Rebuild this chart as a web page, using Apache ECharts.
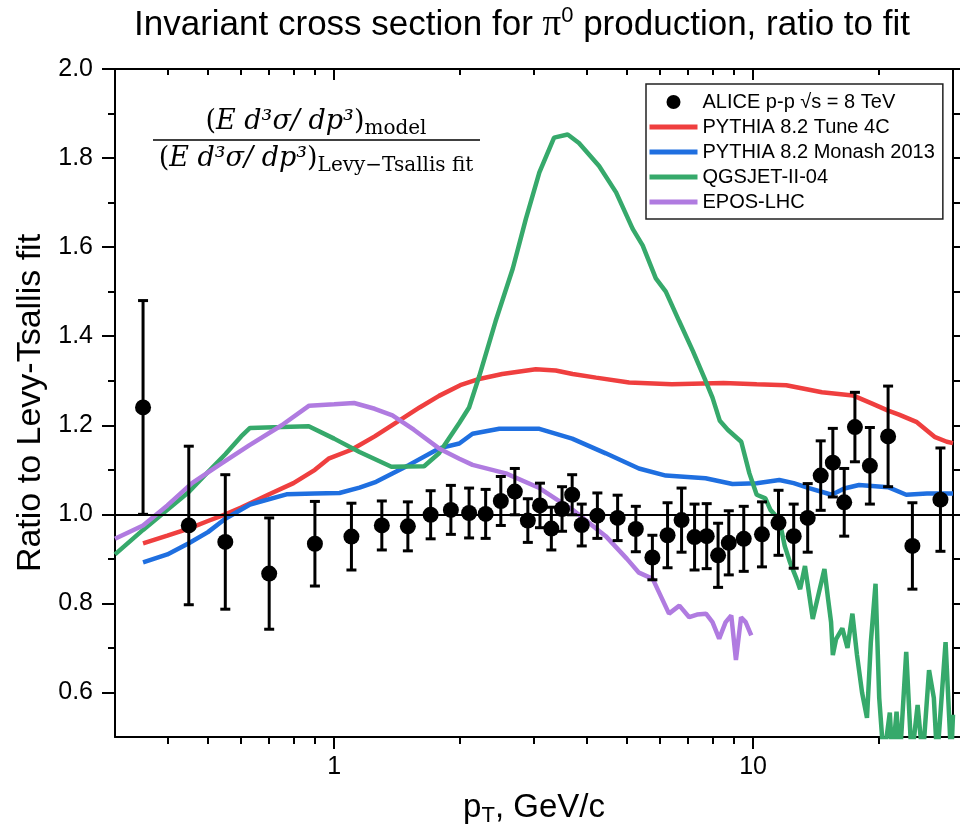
<!DOCTYPE html>
<html>
<head>
<meta charset="utf-8">
<script src="https://cdn.jsdelivr.net/npm/echarts@6/dist/echarts.min.js"></script>
<style>
  html, body { margin: 0; padding: 0; background: #fff; }
  #chart { width: 961px; height: 832px; }
</style>
</head>
<body>
<div id="chart"></div>
<script>
// ALICE data points (pT bin centres, ratio, error)
var alicePt = [0.35, 0.45, 0.55, 0.7, 0.9, 1.1, 1.3, 1.5, 1.7, 1.9, 2.1, 2.3, 2.5, 2.7, 2.9, 3.1, 3.3, 3.5, 3.7, 3.9,
  4.25, 4.75, 5.25, 5.75, 6.25, 6.75, 7.25, 7.75, 8.25, 8.75, 9.5, 10.5, 11.5, 12.5, 13.5, 14.5, 15.5, 16.5, 17.5, 19, 21, 24, 28]
var aliceRatio = [1.240, 0.975, 0.938, 0.867, 0.934, 0.950, 0.975, 0.973, 0.999, 1.010, 1.003, 1.001, 1.030, 1.051, 0.986, 1.020, 0.968, 1.012, 1.044, 0.976,
  0.997, 0.992, 0.967, 0.903, 0.953, 0.987, 0.949, 0.951, 0.908, 0.936, 0.945, 0.955, 0.981, 0.951, 0.992, 1.087, 1.116, 1.027, 1.196, 1.109, 1.175, 0.929, 1.033]
var aliceErr = [0.240, 0.178, 0.151, 0.125, 0.095, 0.075, 0.055, 0.055, 0.054, 0.055, 0.056, 0.055, 0.055, 0.052, 0.049, 0.050, 0.048, 0.050, 0.045, 0.047,
  0.051, 0.051, 0.051, 0.050, 0.073, 0.072, 0.074, 0.073, 0.072, 0.072, 0.073, 0.073, 0.073, 0.072, 0.077, 0.078, 0.077, 0.076, 0.078, 0.086, 0.113, 0.097, 0.116]

// PYTHIA 8.2 Tune 4C
var tune4cPt = [0.35, 0.4, 0.45, 0.5, 0.55, 0.6, 0.7, 0.8, 0.9, 0.97, 1.1, 1.25, 1.4, 1.6, 1.78, 2.0, 2.22, 2.52, 3.03, 3.38,
  3.71, 4.22, 5.06, 6.4, 8.5, 10.2, 12, 14.6, 17.3, 19.3, 21, 22.3, 24.6, 27.1, 29, 30]
var tune4cRatio = [0.935, 0.952, 0.968, 0.985, 1.0, 1.015, 1.045, 1.07, 1.10, 1.125, 1.145, 1.175, 1.205, 1.24, 1.266, 1.29, 1.304, 1.315, 1.326, 1.323,
  1.315, 1.307, 1.296, 1.292, 1.295, 1.292, 1.29, 1.274, 1.267, 1.248, 1.233, 1.224, 1.207, 1.174, 1.163, 1.16]

// PYTHIA 8.2 Monash 2013
var monashPt = [0.35, 0.4, 0.45, 0.5, 0.55, 0.63, 0.77, 0.9, 1.03, 1.15, 1.26, 1.51, 1.78, 1.99, 2.14, 2.48, 3.09, 3.7, 4.45, 5.34,
  6.19, 7.7, 8.93, 10.2, 11.55, 12.5, 13.6, 15.4, 16.5, 17.9, 21, 23.2, 26, 30]
var monashRatio = [0.892, 0.91, 0.935, 0.96, 0.99, 1.022, 1.045, 1.047, 1.048, 1.06, 1.073, 1.111, 1.148, 1.159, 1.181, 1.192, 1.192, 1.17, 1.137, 1.103,
  1.087, 1.081, 1.068, 1.07, 1.077, 1.07, 1.059, 1.044, 1.058, 1.066, 1.061, 1.044, 1.047, 1.047]

// QGSJET-II-04
var qgsjetPt = [0.3, 0.35, 0.4, 0.45, 0.5, 0.55, 0.6, 0.63, 0.75, 0.87, 1.0, 1.15, 1.37, 1.64, 1.78, 1.99, 2.1, 2.22, 2.43, 2.67,
  2.87, 3.09, 3.35, 3.61, 3.84, 4.29, 4.71, 5.16, 5.45, 5.86, 6.19, 6.66, 7.18, 7.7, 8.0, 8.33, 8.7, 9.37, 9.8, 10.2,
  10.7, 11.0, 11.55, 11.9, 12.25, 12.7, 12.95, 13.3, 13.88, 14.8, 15.1, 15.35, 15.5, 15.78, 16.33, 16.8, 17.26, 17.7, 18.2, 18.7,
  19.1, 19.6, 20.0, 20.5, 21.2, 21.5, 22.0, 22.4, 23.2, 23.9, 24.7, 25.4, 26.3, 27.0, 27.5, 28.8, 29.7, 30]
var qgsjetRatio = [0.91, 0.965, 1.01, 1.05, 1.095, 1.135, 1.175, 1.194, 1.196, 1.198, 1.17, 1.14, 1.107, 1.108, 1.137, 1.205, 1.24, 1.31, 1.434, 1.552,
  1.664, 1.768, 1.846, 1.853, 1.834, 1.782, 1.723, 1.641, 1.604, 1.53, 1.50, 1.434, 1.367, 1.30, 1.262, 1.21, 1.19, 1.163, 1.092, 1.044,
  1.036, 1.01, 0.988, 0.929, 0.892, 0.855, 0.832, 0.884, 0.765, 0.877, 0.81, 0.758, 0.684, 0.72, 0.744, 0.70, 0.777, 0.684, 0.60, 0.543,
  0.713, 0.844, 0.588, 0.45, 0.555, 0.45, 0.557, 0.45, 0.691, 0.45, 0.572, 0.45, 0.65, 0.588, 0.45, 0.713, 0.45, 0.55]

// EPOS-LHC
var eposPt = [0.3, 0.35, 0.4, 0.458, 0.53, 0.627, 0.75, 0.872, 1.0, 1.116, 1.25, 1.378, 1.55, 1.78, 1.99, 2.14, 2.57, 3.09, 3.71, 4.45,
  5.0, 5.34, 5.76, 6.3, 6.67, 7.04, 7.35, 7.72, 8.0, 8.3, 8.6, 8.87, 9.1, 9.36, 9.6, 9.9]
var eposRatio = [0.945, 0.975, 1.02, 1.07, 1.11, 1.155, 1.20, 1.244, 1.247, 1.25, 1.237, 1.222, 1.19, 1.148, 1.125, 1.111, 1.092, 1.059, 1.01, 0.951,
  0.90, 0.869, 0.855, 0.777, 0.795, 0.769, 0.775, 0.777, 0.758, 0.721, 0.758, 0.773, 0.673, 0.769, 0.758, 0.728]

// axis ticks
var xMajorTicks = [1, 10]
var xMinorTicks = [0.4, 0.5, 0.6, 0.7, 0.8, 0.9, 2, 3, 4, 5, 6, 7, 8, 9, 20]
var yMajorTicks = [0.6, 0.8, 1.0, 1.2, 1.4, 1.6, 1.8, 2.0]
var yMinorTicks = [0.7, 0.9, 1.1, 1.3, 1.5, 1.7, 1.9]

var seriesNames = ['ALICE p-p √s = 8 TeV', 'PYTHIA 8.2 Tune 4C', 'PYTHIA 8.2 Monash 2013', 'QGSJET-II-04', 'EPOS-LHC']

$ = null;
(function () {
  var font = 'Liberation Sans, Arial, sans-serif'
  var serif = 'Liberation Serif, Times New Roman, serif'
  var mathFont = 'DejaVu Serif, serif'
  var myChart = echarts.init(document.getElementById('chart'))

  function pairs(xs, ys) {
    return xs.map(function (x, i) { return [x, ys[i]] })
  }
  var aliceData = alicePt.map(function (x, i) { return [x, aliceRatio[i], aliceErr[i]] })

  function xAxisCfg(pos, ticks, len, inside, main) {
    return {
      type: 'log', min: 0.3, max: 30, position: pos,
      axisLine: { show: main, onZero: false, lineStyle: { color: '#000', width: 2 } },
      axisTick: { show: true, inside: inside, customValues: ticks, length: len, lineStyle: { color: '#000', width: 2 } },
      axisLabel: { show: false },
      splitLine: { show: false }
    }
  }
  function yAxisCfg(pos, ticks, len, main) {
    return {
      type: 'value', min: 0.5, max: 2.0, position: pos,
      axisLine: { show: main, onZero: false, lineStyle: { color: '#000', width: 2 } },
      axisTick: { show: true, customValues: ticks, length: len, lineStyle: { color: '#000', width: 2 } },
      axisLabel: { show: false },
      splitLine: { show: false }
    }
  }

  var xBottom = xAxisCfg('bottom', xMajorTicks, 12, false, true)
  xBottom.axisLabel = {
    show: true, customValues: xMajorTicks, fontSize: 25, color: '#000', fontFamily: font, margin: 18,
    formatter: function (v) { return String(Math.round(v)) }
  }
  xBottom.name = '{a|p}{b|T}{a|, GeV/c}'
  xBottom.nameLocation = 'middle'
  xBottom.nameGap = 52
  xBottom.nameTextStyle = {
    rich: {
      a: { fontSize: 33, fontFamily: font, color: '#000', lineHeight: 38 },
      b: { fontSize: 22, fontFamily: font, color: '#000', lineHeight: 38, verticalAlign: 'bottom' }
    }
  }

  var yLeft = yAxisCfg('left', yMajorTicks, 13, true)
  yLeft.axisLabel = {
    show: true, customValues: yMajorTicks, fontSize: 25, color: '#000', fontFamily: font, margin: 22,
    formatter: function (v) { return v.toFixed(1) }
  }
  yLeft.name = 'Ratio to Levy-Tsallis fit'
  yLeft.nameLocation = 'middle'
  yLeft.nameGap = 66
  yLeft.nameTextStyle = { fontSize: 34, fontFamily: font, color: '#000' }

  var yRight = {
    type: 'value', min: 0.5, max: 2.0, interval: 0.1, position: 'right',
    axisLine: { show: true, onZero: false, lineStyle: { color: '#000', width: 2 } },
    axisTick: { show: true, length: 7, lineStyle: { color: '#000', width: 2 } },
    axisLabel: { show: false },
    splitLine: { show: false }
  }

  var lineColors = ['#ef3f3f', '#1f6fe0', '#36a96b', '#b07be0']
  var curves = [pairs(tune4cPt, tune4cRatio), pairs(monashPt, monashRatio), pairs(qgsjetPt, qgsjetRatio), pairs(eposPt, eposRatio)]

  var series = [{
    name: 'errorbars', type: 'custom', xAxisIndex: 0, yAxisIndex: 0, z: 4,
    data: aliceData,
    renderItem: function (params, api) {
      var x = api.value(0), y = api.value(1), e = api.value(2)
      var top = api.coord([x, y + e])
      var bot = api.coord([x, y - e])
      var w = 5
      var st = { stroke: '#000', lineWidth: 3 }
      return {
        type: 'group',
        children: [
          { type: 'line', shape: { x1: top[0], y1: top[1], x2: bot[0], y2: bot[1] }, style: st },
          { type: 'line', shape: { x1: top[0] - w, y1: top[1], x2: top[0] + w, y2: top[1] }, style: st },
          { type: 'line', shape: { x1: bot[0] - w, y1: bot[1], x2: bot[0] + w, y2: bot[1] }, style: st }
        ]
      }
    },
    markLine: {
      silent: true, symbol: 'none', label: { show: false },
      lineStyle: { color: '#000', width: 2, type: 'solid' },
      data: [{ yAxis: 1.0 }]
    }
  }]
  curves.forEach(function (d, i) {
    series.push({
      name: seriesNames[i + 1], type: 'line', xAxisIndex: 0, yAxisIndex: 0,
      data: d, symbol: 'none', smooth: false, clip: true, z: 2,
      lineStyle: { color: lineColors[i], width: 4.5 },
      itemStyle: { color: lineColors[i] }
    })
  })
  series.push({
    name: seriesNames[0], type: 'scatter', xAxisIndex: 0, yAxisIndex: 0, z: 5,
    data: aliceData, symbol: 'circle', symbolSize: 16,
    itemStyle: { color: '#000', opacity: 1 }
  })

  var legendLine = function (name, color) {
    return { name: name, itemStyle: { opacity: 0 }, lineStyle: { color: color, width: 5 } }
  }

  // 公式 (E d3σ/dp3)model / (E d3σ/dp3)Levy-Tsallis fit
  var fracRich = {
    u: { fontSize: 27, fontFamily: mathFont, fill: '#000', lineHeight: 34 },
    i: { fontSize: 27, fontFamily: mathFont, fontStyle: 'italic', fill: '#000', lineHeight: 34 },
    s: { fontSize: 20, fontFamily: mathFont, fill: '#000', lineHeight: 34, verticalAlign: 'bottom' }
  }

  var option = {
    animation: false,
    backgroundColor: '#fff',
    title: {
      text: 'Invariant cross section for {p|π}{s|0} production, ratio to fit',
      left: 517, top: 0, textAlign: 'center',
      textStyle: {
        fontSize: 35, fontWeight: 'normal', color: '#000', fontFamily: font,
        rich: {
          p: { fontSize: 37, fontFamily: serif, color: '#000' },
          s: { fontSize: 22, fontFamily: font, color: '#000', verticalAlign: 'top', lineHeight: 40 }
        }
      }
    },
    grid: { left: 115, right: 8, top: 69, bottom: 90, containLabel: false },
    legend: {
      orient: 'vertical', left: 646, top: 84,
      itemWidth: 48, itemHeight: 14, itemGap: 5,
      padding: [8, 8, 7, 1],
      borderColor: '#222', borderWidth: 1.5,
      textStyle: { fontSize: 20, fontFamily: font, color: '#000' },
      data: [
        { name: seriesNames[0], icon: 'circle', itemStyle: { color: '#000', opacity: 1 } },
        legendLine(seriesNames[1], lineColors[0]),
        legendLine(seriesNames[2], lineColors[1]),
        legendLine(seriesNames[3], lineColors[2]),
        legendLine(seriesNames[4], lineColors[3])
      ]
    },
    xAxis: [
      xBottom,
      xAxisCfg('bottom', xMinorTicks, 7, false, false),
      xAxisCfg('top', xMajorTicks, 11, true, true),
      xAxisCfg('top', xMinorTicks, 6, true, false)
    ],
    yAxis: [
      yLeft,
      yAxisCfg('left', yMinorTicks, 7, false),
      yRight
    ],
    graphic: [
      {
        type: 'text',
        style: {
          x: 316, y: 122, align: 'center', verticalAlign: 'middle',
          text: '{u|(}{i|E d³σ/ dp³}{u|)}{s|model}',
          rich: fracRich
        }
      },
      {
        type: 'line', shape: { x1: 153, y1: 140, x2: 480, y2: 140 },
        style: { stroke: '#000', lineWidth: 1.5 }
      },
      {
        type: 'text',
        style: {
          x: 316, y: 159, align: 'center', verticalAlign: 'middle',
          text: '{u|(}{i|E d³σ/ dp³}{u|)}{s|Levy−Tsallis fit}',
          rich: fracRich
        }
      }
    ],
    series: series
  }
  myChart.setOption(option)
  window.addEventListener('resize', function () { myChart.resize() })
})();
</script>
</body>
</html>
